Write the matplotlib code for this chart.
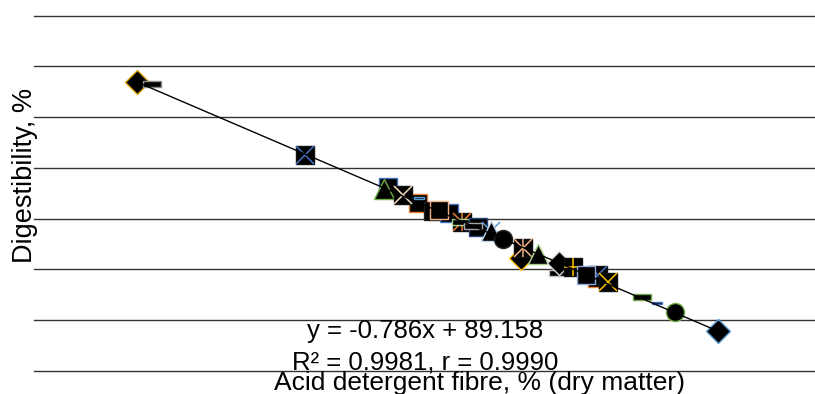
import numpy as np
import matplotlib
matplotlib.use("Agg")
import matplotlib.pyplot as plt

plt.rcParams["font.family"] = ["Liberation Sans", "DejaVu Sans"]

# values (acid detergent fibre vs digestibility)
adf = [26.33, 27.14, 35.36, 39.83, 39.61, 41.44, 41.49, 40.63, 42.25, 43.11,
       42.57, 43.81, 43.75, 44.67, 44.40, 45.37, 46.01, 46.98, 47.09, 47.89,
       48.97, 49.02, 49.77, 51.06, 51.12, 50.47, 51.66, 53.49, 54.30, 55.26,
       57.57]
digest = [68.46, 68.27, 61.27, 58.11, 57.91, 56.54, 57.03, 57.33, 55.75, 55.55,
          55.84, 54.66, 54.66, 54.17, 54.27, 53.78, 52.99, 51.12, 52.11, 51.50,
          49.63, 50.62, 50.22, 49.14, 49.43, 49.43, 48.74, 47.26, 46.67, 45.78,
          43.91]

# styles (one per point, draw order)
kinds = ["D", "dash", "xsq", "s", "^", "s", "sdash", "xsq", "s", "s",
         "s", "starsq", "dash", "s", "dash", "xtri", "o", "D", "starsq", "^",
         "dash", "D", "plussq", "s", "xsq", "s", "xsq", "dash", "sdash", "o",
         "D"]
colours = ["#D9A400", "#8C8C8C", "#4472C4", "#4472C4", "#70AD47", "#ED7D31",
           "#5B9BD5", "#F2DCC0", "#1F1F1F", "#4472C4", "#F4B183", "#ED7D31",
           "#A9D18E", "#264478", "#A5A5A5", "#BDD7EE", "#262626", "#FFC000",
           "#F4B183", "#A9D18E", "#BFBFBF", "#D9D9D9", "#FFC000", "#ED7D31",
           "#4472C4", "#8FAADC", "#FFC000", "#70AD47", "#4472C4", "#70AD47",
           "#5B9BD5"]

slope, intercept = -0.786, 89.158
grid_levels = [40, 45, 50, 55, 60, 65, 70, 75]

dash_mk = [(-1, -0.28), (1, -0.28), (1, 0.28), (-1, 0.28), (-1, -0.28)]

W, H = 815, 394
fig = plt.figure(figsize=(W / 100, H / 100), dpi=100)
ax = fig.add_axes([34 / W, (H - 370.7) / H, (W - 34) / W, (370.7 - 15.7) / H])
ax.set_xlim(20.8, 62.8)
ax.set_ylim(40, 75)
ax.axis("off")

for g in grid_levels:
    ax.axhline(g, color="#333333", linewidth=1.0, clip_on=False, zorder=0)

for x, y, k, c in zip(adf, digest, kinds, colours):
    kw = dict(linestyle="none", markerfacecolor="black", markeredgewidth=1.0)
    if k in ("xsq", "starsq", "plussq"):
        ax.plot(x, y, marker="s", markersize=13, markeredgecolor="#111111", **kw)
        overlay = {"xsq": ["x"], "starsq": ["x", "|"], "plussq": ["+"]}[k]
        for m in overlay:
            ax.plot(x, y, marker=m, markersize=12.5, color=c,
                    markeredgewidth=1.1, linestyle="none")
    elif k == "xtri":
        ax.plot(x, y, marker="x", markersize=12.5, color="#5B9BD5",
                markeredgewidth=1.1, linestyle="none")
        ax.plot(x, y, marker="^", markersize=14, markeredgecolor=c, **kw)
    elif k == "dash":
        ax.plot(x, y, marker=dash_mk, markersize=13, markeredgecolor=c, **kw)
    elif k == "sdash":
        ax.plot(x, y, marker=dash_mk, markersize=7.5, markeredgecolor=c, **kw)
    elif k == "D":
        ax.plot(x, y, marker="D", markersize=12.5, markeredgecolor=c, **kw)
    elif k == "^":
        ax.plot(x, y, marker="^", markersize=14, markeredgecolor=c, **kw)
    else:
        ax.plot(x, y, marker=k, markersize=13, markeredgecolor=c, **kw)

xs = np.array([min(adf), max(adf) + 0.4])
ax.plot(xs, slope * xs + intercept, color="black", linewidth=1.0, zorder=5)

fig.text(425.5 / W, 1 - 338.3 / H, "y = -0.786x + 89.158", ha="center",
         va="baseline", fontsize=18.5)
fig.text(425.5 / W, 1 - 369.3 / H, "R² = 0.9981, r = 0.9990", ha="center",
         va="baseline", fontsize=18.5)
fig.text(479 / W, 1 - 390 / H, "Acid detergent fibre, % (dry matter)",
         ha="center", va="baseline", fontsize=19)
fig.text(25.5 / W, 1 - 175 / H, "Digestibility, %", rotation=90,
         ha="center", va="center", fontsize=19.5)

fig.savefig("out.png", dpi=100)
